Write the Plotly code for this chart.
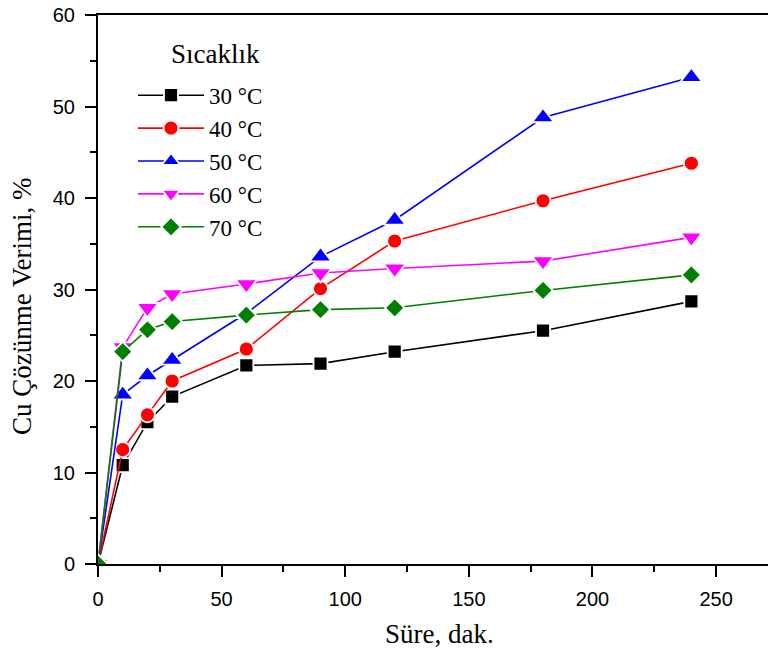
import plotly.graph_objects as go

# Leaching time (min)
sure = [0, 10, 20, 30, 60, 90, 120, 180, 240]

# Cu dissolution yield (%) per temperature
verim_30 = [0, 10.8, 15.5, 18.3, 21.7, 21.9, 23.2, 25.5, 28.7]
verim_40 = [0, 12.5, 16.3, 20.0, 23.5, 30.1, 35.3, 39.7, 43.8]
verim_50 = [0, 18.5, 20.6, 22.3, 27.4, 33.6, 37.6, 48.8, 53.2]
verim_60 = [0, 23.7, 28.0, 29.5, 30.6, 31.8, 32.3, 33.1, 35.7]
verim_70 = [0, 23.2, 25.6, 26.5, 27.2, 27.8, 28.0, 29.9, 31.6]

series = [
    ("30 °C", verim_30, "#000000", "square", 14),
    ("40 °C", verim_40, "#ff0000", "circle", 15),
    ("50 °C", verim_50, "#0000ff", "triangle-up", 19),
    ("60 °C", verim_60, "#ff00ff", "triangle-down", 19),
    ("70 °C", verim_70, "#008000", "diamond", 15),
]

SERIF = "Liberation Serif, Times New Roman, serif"
SANS = "Liberation Sans, Arial, sans-serif"

fig = go.Figure()
for name, y, color, symbol, size in series:
    fig.add_trace(go.Scatter(
        x=sure, y=y, name=name, mode="lines+markers",
        line=dict(color=color, width=1.6),
        marker=dict(symbol=symbol, size=size, color=color,
                    line=dict(color="white", width=1.8)),
    ))

axis_common = dict(
    showline=True, linecolor="black", linewidth=2,
    ticks="outside", ticklen=11, tickwidth=2, tickcolor="black",
    showgrid=False, zeroline=False,
    tickfont=dict(family=SANS, size=20, color="black"),
)

fig.update_layout(
    width=768, height=655,
    margin=dict(l=98, r=0, t=15, b=91),
    paper_bgcolor="white", plot_bgcolor="white",
    xaxis=dict(
        axis_common, range=[0, 271], dtick=50, tick0=0, mirror=True,
        ticklabelstandoff=5,
        minor=dict(dtick=25, ticklen=6, tickwidth=2, tickcolor="black", ticks="outside"),
    ),
    yaxis=dict(
        axis_common, range=[0, 60], dtick=10, tick0=0,
        ticklabelstandoff=6,
        minor=dict(dtick=5, ticklen=6, tickwidth=2, tickcolor="black", ticks="outside"),
    ),
    legend=dict(
        x=(133 - 98) / 670, y=0.893, xanchor="left", yanchor="top",
        bgcolor="rgba(0,0,0,0)", itemwidth=66,
        font=dict(family=SERIF, size=23, color="black"),
    ),
    showlegend=True,
    annotations=[
        dict(text="Sıcaklık", xref="paper", yref="paper", x=(215 - 98) / 670,
             y=(564 - 54) / 549, xanchor="center", yanchor="middle", showarrow=False,
             font=dict(family=SERIF, size=27, color="black")),
        dict(text="Süre, dak.", xref="paper", yref="paper", x=(439 - 98) / 670,
             y=(564 - 634) / 549, xanchor="center", yanchor="middle", showarrow=False,
             font=dict(family=SERIF, size=27, color="black")),
        dict(text="Cu Çözünme Verimi, %", xref="paper", yref="paper", x=(22 - 98) / 670,
             y=(564 - 307) / 549, xanchor="center", yanchor="middle", showarrow=False,
             textangle=-90, font=dict(family=SERIF, size=27, color="black")),
    ],
)

fig.write_html("out.html")
